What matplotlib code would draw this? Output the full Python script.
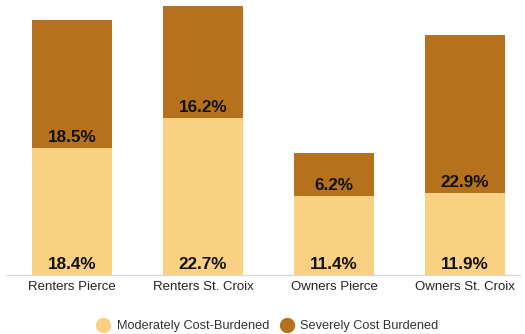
import matplotlib.pyplot as plt
import numpy as np
from matplotlib.lines import Line2D

plt.rcParams["font.family"] = ["Liberation Sans", "DejaVu Sans"]

categories = ["Renters Pierce", "Renters St. Croix", "Owners Pierce", "Owners St. Croix"]
moderate = [18.4, 22.7, 11.4, 11.9]
severe = [18.5, 16.2, 6.2, 22.9]
series_names = ["Moderately Cost-Burdened", "Severely Cost Burdened"]

LIGHT = "#FAD083"
BROWN = "#B5711B"

fig = plt.figure(figsize=(5.25, 3.34), dpi=100)
ax = fig.add_axes([0.0114, 0.1766, 0.979, 0.8234])

x = np.arange(len(categories))
width = 0.615
ax.bar(x, moderate, width, color=LIGHT, zorder=2)
ax.bar(x, severe, width, bottom=moderate, color=BROWN, zorder=2)

# value labels sit just above the bottom of each segment
for xi, m, s in zip(x, moderate, severe):
    ax.annotate(f"{m}%", (xi, 0), xytext=(0, 2), textcoords="offset points",
                ha="center", va="bottom", fontsize=12.3, fontweight="bold", color="#111111")
    ax.annotate(f"{s}%", (xi, m), xytext=(0, 2), textcoords="offset points",
                ha="center", va="bottom", fontsize=12.3, fontweight="bold", color="#111111")

ax.set_xlim(-0.505, 3.42)
ax.set_ylim(0, 39.8)
ax.set_xticks(x)
ax.set_xticklabels(categories, fontsize=9.5, color="#222222")
ax.tick_params(axis="x", length=0, pad=4)
ax.set_yticks([])
for side in ["top", "right", "left"]:
    ax.spines[side].set_visible(False)
ax.spines["bottom"].set_color("#D9D9D9")
ax.spines["bottom"].set_linewidth(1)

handles = [Line2D([], [], marker="o", linestyle="", markersize=10, color=c)
           for c in (LIGHT, BROWN)]
fig.legend(handles, series_names, loc="center", bbox_to_anchor=(0.51, 0.024),
           ncol=2, frameon=False, fontsize=9.2, handletextpad=0.59,
           handlelength=1.0, columnspacing=0.83, labelcolor="#333333")

fig.savefig("out.png", dpi=100)
